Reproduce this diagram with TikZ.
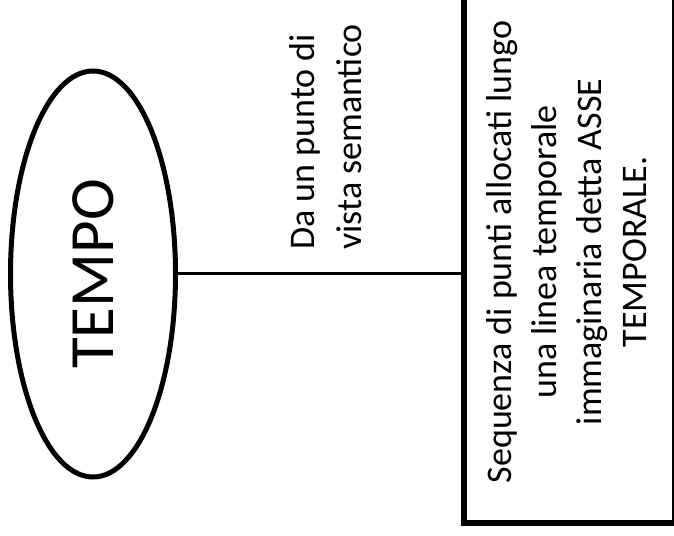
\documentclass[tikz,border=0pt]{standalone}
\usepackage{fontspec}
\setmainfont{Carlito}
\usetikzlibrary{shapes.geometric}
\begin{document}
\begin{tikzpicture}[x=1pt,y=1pt,
  concept/.style={draw, ellipse, line width=5pt, minimum width=165pt,
    minimum height=406pt, inner sep=0pt},
  defbox/.style={draw, rectangle, line width=5.5pt, minimum width=211pt,
    minimum height=542pt, inner sep=0pt},
  link/.style={line width=3pt},
  bigtext/.style={font=\fontsize{63}{75}\selectfont},
  bodytext/.style={font=\fontsize{36}{45}\selectfont},
  labeltext/.style={font=\fontsize{36}{47}\selectfont}
]
\useasboundingbox (0,0) rectangle (674,535);
\clip (0,0) rectangle (674,535);

% concept ellipse on the left
\node[concept, bigtext] (tempo) at (93,261) {\rotatebox{90}{TEMPO}};

% definition box on the right, running past the top and right edges
\node[defbox, bodytext] (def) at (569.5,283)
  {\rotatebox{90}{\begin{tabular}{@{}c@{}}
     Sequenza di punti allocati lungo\\
     una linea temporale\\
     immaginaria detta ASSE\\
     TEMPORALE.
   \end{tabular}}};

% connector between the two
\draw[link] (tempo.east) -- (tempo.east -| def.west);

% label above the connector
\node[labeltext, rotate=90, anchor=base west, align=left, inner sep=0pt]
  (lbl) at (361,285) {Da un punto di\\vista semantico};
\end{tikzpicture}
\end{document}
